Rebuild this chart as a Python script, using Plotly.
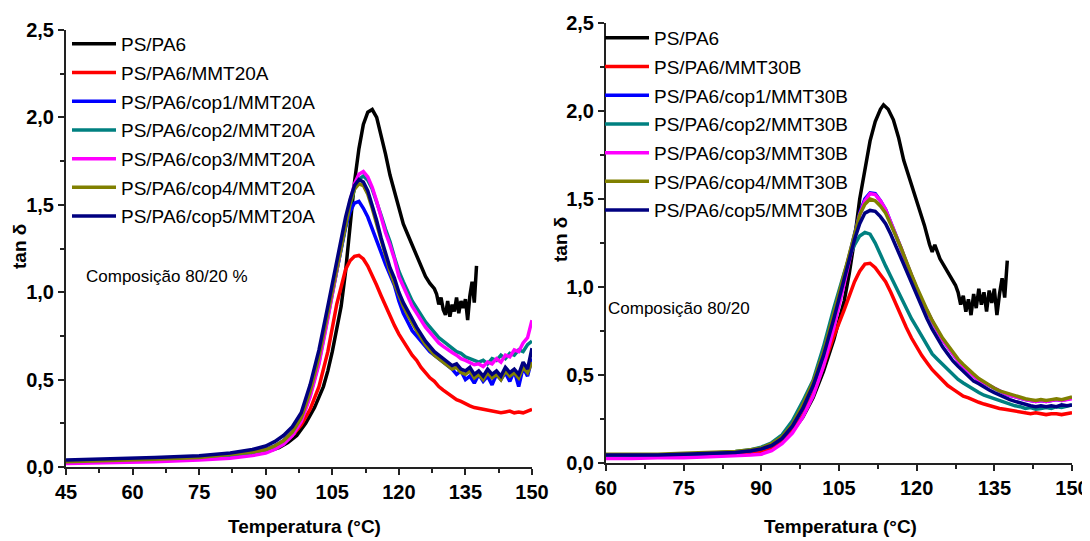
import plotly.graph_objects as go

# The page body adds an 8 px margin; the figure is sized and placed to compensate.
W, H = 1090, 541
OFF = 8
FW, FH = W - OFF, H - OFF

# ---------------- DATA ----------------
labels_left = ["PS/PA6", "PS/PA6/MMT20A", "PS/PA6/cop1/MMT20A", "PS/PA6/cop2/MMT20A",
               "PS/PA6/cop3/MMT20A", "PS/PA6/cop4/MMT20A", "PS/PA6/cop5/MMT20A"]
labels_right = ["PS/PA6", "PS/PA6/MMT30B", "PS/PA6/cop1/MMT30B", "PS/PA6/cop2/MMT30B",
                "PS/PA6/cop3/MMT30B", "PS/PA6/cop4/MMT30B", "PS/PA6/cop5/MMT30B"]
colors = ["#000000", "#ff0000", "#0000ff", "#008080", "#ff00ff", "#808000", "#000080"]

x_ticks_left = [45, 60, 75, 90, 105, 120, 135, 150]
x_ticks_right = [60, 75, 90, 105, 120, 135, 150]
y_ticks = [0.0, 0.5, 1.0, 1.5, 2.0, 2.5]

# Left panel (MMT20A)
L_T_black = [45, 55, 65, 75, 82, 87, 90, 93, 95, 97, 99, 101, 103, 104, 105, 106, 107, 108, 109, 110,
             111, 112, 113, 114, 115, 116, 117, 118, 119, 120, 121, 122, 122.5, 123, 124, 125, 126,
             127, 128, 128.5, 129, 129.5, 130, 130.5, 131, 131.5, 132, 132.5, 133, 133.5, 134, 134.5,
             135, 135.5, 136, 136.5, 137, 137.5]
L_black = [0.03, 0.035, 0.04, 0.05, 0.06, 0.07, 0.085, 0.11, 0.14, 0.18, 0.25, 0.34, 0.46, 0.55, 0.66,
           0.78, 0.92, 1.12, 1.38, 1.63, 1.82, 1.96, 2.03, 2.045, 2.00, 1.90, 1.79, 1.67, 1.57, 1.47,
           1.39, 1.33, 1.30, 1.26, 1.21, 1.15, 1.09, 1.05, 1.02, 0.99, 0.93, 0.97, 0.90, 0.87, 0.95,
           0.86, 0.93, 0.89, 0.97, 0.88, 0.95, 0.91, 0.96, 0.84, 0.98, 1.06, 0.94, 1.15]

L_T = [45, 55, 65, 75, 82, 87, 90, 92, 94, 96, 98, 100, 102, 104, 106, 108, 109, 110, 111, 112, 113,
       114, 115, 116, 117, 118, 119, 120, 121, 122, 123, 124, 125, 126, 127, 128, 129, 130, 131, 132,
       133, 134, 135, 136, 137, 138, 139, 140, 141, 142, 143, 144, 145, 146, 147, 148, 149, 150]
L_red = [0.03, 0.035, 0.04, 0.05, 0.06, 0.075, 0.09, 0.11, 0.14, 0.18, 0.24, 0.33, 0.46, 0.66, 0.93,
         1.13, 1.18, 1.205, 1.21, 1.19, 1.15, 1.10, 1.04, 0.98, 0.92, 0.86, 0.81, 0.76, 0.72, 0.68,
         0.64, 0.61, 0.57, 0.54, 0.51, 0.49, 0.46, 0.44, 0.42, 0.40, 0.385, 0.375, 0.36, 0.35, 0.34,
         0.335, 0.33, 0.325, 0.32, 0.315, 0.31, 0.315, 0.32, 0.31, 0.315, 0.31, 0.32, 0.33]
L_blue = [0.03, 0.035, 0.045, 0.055, 0.07, 0.085, 0.10, 0.12, 0.15, 0.20, 0.28, 0.43, 0.63, 0.88, 1.13,
          1.37, 1.46, 1.51, 1.52, 1.48, 1.43, 1.36, 1.29, 1.23, 1.16, 1.10, 1.04, 0.95, 0.88, 0.83,
          0.78, 0.75, 0.72, 0.69, 0.66, 0.64, 0.62, 0.60, 0.58, 0.56, 0.53, 0.55, 0.50, 0.52, 0.48,
          0.53, 0.49, 0.52, 0.47, 0.53, 0.50, 0.54, 0.49, 0.55, 0.46, 0.57, 0.52, 0.62]
L_teal = [0.03, 0.035, 0.045, 0.055, 0.065, 0.08, 0.095, 0.11, 0.14, 0.19, 0.27, 0.41, 0.60, 0.85, 1.12,
          1.38, 1.50, 1.59, 1.645, 1.665, 1.64, 1.59, 1.52, 1.44, 1.36, 1.29, 1.20, 1.12, 1.06, 1.00,
          0.95, 0.91, 0.87, 0.83, 0.80, 0.77, 0.74, 0.72, 0.70, 0.68, 0.66, 0.65, 0.63, 0.62, 0.61,
          0.60, 0.61, 0.59, 0.62, 0.61, 0.64, 0.62, 0.65, 0.64, 0.67, 0.66, 0.70, 0.72]
L_magenta = [0.02, 0.025, 0.03, 0.04, 0.05, 0.065, 0.08, 0.10, 0.13, 0.18, 0.26, 0.40, 0.59, 0.85, 1.13,
             1.40, 1.52, 1.62, 1.675, 1.69, 1.66, 1.60, 1.52, 1.43, 1.34, 1.27, 1.19, 1.09, 1.03, 0.97,
             0.92, 0.88, 0.84, 0.80, 0.77, 0.74, 0.71, 0.69, 0.67, 0.655, 0.64, 0.62, 0.61, 0.60, 0.585,
             0.59, 0.575, 0.60, 0.59, 0.62, 0.60, 0.64, 0.63, 0.67, 0.66, 0.71, 0.74, 0.84]
L_olive = [0.03, 0.035, 0.045, 0.055, 0.07, 0.085, 0.10, 0.12, 0.15, 0.20, 0.28, 0.43, 0.63, 0.88, 1.14,
           1.40, 1.51, 1.59, 1.62, 1.61, 1.56, 1.48, 1.39, 1.29, 1.20, 1.12, 1.05, 0.98, 0.92, 0.87,
           0.82, 0.78, 0.74, 0.70, 0.67, 0.64, 0.62, 0.60, 0.58, 0.56, 0.57, 0.54, 0.53, 0.55, 0.51,
           0.53, 0.50, 0.54, 0.51, 0.53, 0.50, 0.55, 0.52, 0.54, 0.51, 0.57, 0.54, 0.60]
L_navy = [0.04, 0.045, 0.055, 0.065, 0.08, 0.10, 0.12, 0.145, 0.18, 0.23, 0.31, 0.47, 0.67, 0.92, 1.18,
          1.43, 1.53, 1.61, 1.645, 1.63, 1.58, 1.50, 1.41, 1.31, 1.22, 1.14, 1.08, 1.00, 0.94, 0.89,
          0.84, 0.80, 0.76, 0.72, 0.69, 0.66, 0.64, 0.62, 0.60, 0.58, 0.59, 0.56, 0.55, 0.57, 0.53,
          0.55, 0.52, 0.56, 0.53, 0.55, 0.52, 0.57, 0.54, 0.56, 0.53, 0.60, 0.56, 0.68]

# Right panel (MMT30B)
R_T_black = [60, 70, 80, 85, 88, 90, 92, 94, 96, 98, 100, 102, 104, 106, 107, 108, 109, 110, 111, 112,
             113, 113.6, 114.5, 115.5, 116.5, 117.5, 118.5, 119.5, 120.5, 121.5, 122.5, 123, 123.5,
             124.5, 125.5, 126.5, 127.5, 128, 128.5, 129, 129.5, 130, 130.5, 131, 131.5, 132, 132.5,
             133, 133.5, 134, 134.5, 135, 135.5, 136, 136.5, 137, 137.5]
R_black = [0.04, 0.045, 0.05, 0.055, 0.06, 0.07, 0.09, 0.12, 0.18, 0.26, 0.37, 0.52, 0.70, 0.92, 1.08,
           1.27, 1.50, 1.68, 1.83, 1.94, 2.01, 2.035, 2.01, 1.95, 1.85, 1.72, 1.63, 1.54, 1.44, 1.35,
           1.24, 1.20, 1.24, 1.16, 1.11, 1.06, 1.01, 0.97, 0.90, 0.95, 0.86, 0.93, 0.84, 0.96, 0.88,
           0.99, 0.90, 0.97, 0.86, 0.98, 0.91, 0.99, 0.84, 0.96, 1.05, 0.94, 1.15]

R_T = [60, 65, 70, 75, 80, 85, 88, 90, 92, 94, 96, 98, 100, 102, 104, 106, 107, 108, 109, 110, 111,
       112, 113, 114, 115, 116, 117, 118, 119, 120, 121, 122, 123, 124, 125, 126, 127, 128, 129, 130,
       131, 132, 133, 134, 135, 136, 137, 138, 139, 140, 141, 142, 143, 144, 145, 146, 147, 148, 149, 150]
R_red = [0.035, 0.035, 0.035, 0.04, 0.045, 0.05, 0.055, 0.065, 0.085, 0.12, 0.18, 0.27, 0.39, 0.55, 0.72,
         0.87, 0.95, 1.03, 1.09, 1.13, 1.135, 1.11, 1.07, 1.03, 0.97, 0.90, 0.84, 0.77, 0.71, 0.66,
         0.61, 0.57, 0.53, 0.50, 0.47, 0.44, 0.42, 0.40, 0.38, 0.37, 0.355, 0.345, 0.335, 0.325, 0.315,
         0.31, 0.305, 0.30, 0.295, 0.29, 0.285, 0.28, 0.285, 0.28, 0.275, 0.28, 0.28, 0.275, 0.28, 0.285]
R_blue = [0.04, 0.04, 0.045, 0.045, 0.05, 0.06, 0.07, 0.08, 0.10, 0.14, 0.21, 0.31, 0.44, 0.61, 0.82,
          1.06, 1.18, 1.30, 1.42, 1.50, 1.535, 1.53, 1.49, 1.44, 1.37, 1.30, 1.22, 1.14, 1.06, 0.99,
          0.92, 0.86, 0.80, 0.75, 0.70, 0.66, 0.62, 0.58, 0.55, 0.52, 0.495, 0.47, 0.455, 0.435, 0.42,
          0.405, 0.395, 0.385, 0.375, 0.365, 0.36, 0.355, 0.35, 0.355, 0.35, 0.355, 0.36, 0.355, 0.365, 0.37]
R_teal = [0.04, 0.045, 0.045, 0.05, 0.055, 0.065, 0.075, 0.09, 0.115, 0.16, 0.24, 0.35, 0.47, 0.66, 0.88,
          1.08, 1.17, 1.24, 1.29, 1.31, 1.30, 1.25, 1.18, 1.12, 1.06, 1.00, 0.94, 0.87, 0.82, 0.77,
          0.72, 0.67, 0.62, 0.59, 0.56, 0.53, 0.50, 0.475, 0.455, 0.435, 0.415, 0.40, 0.385, 0.375, 0.36,
          0.35, 0.34, 0.335, 0.325, 0.32, 0.31, 0.315, 0.305, 0.31, 0.315, 0.31, 0.32, 0.315, 0.325, 0.33]
R_magenta = [0.025, 0.025, 0.03, 0.03, 0.035, 0.04, 0.045, 0.05, 0.07, 0.11, 0.17, 0.26, 0.38, 0.55, 0.77,
             1.02, 1.15, 1.28, 1.41, 1.49, 1.53, 1.525, 1.49, 1.44, 1.37, 1.30, 1.22, 1.14, 1.06, 0.99,
             0.92, 0.86, 0.80, 0.75, 0.70, 0.66, 0.62, 0.58, 0.55, 0.52, 0.495, 0.47, 0.455, 0.435, 0.42,
             0.405, 0.395, 0.385, 0.375, 0.365, 0.36, 0.355, 0.35, 0.355, 0.35, 0.355, 0.36, 0.355, 0.36, 0.365]
R_olive = [0.05, 0.05, 0.05, 0.055, 0.06, 0.065, 0.075, 0.085, 0.11, 0.15, 0.22, 0.33, 0.46, 0.63, 0.85,
           1.08, 1.20, 1.31, 1.41, 1.47, 1.50, 1.49, 1.46, 1.42, 1.36, 1.29, 1.22, 1.14, 1.07, 1.00,
           0.93, 0.87, 0.81, 0.76, 0.71, 0.67, 0.63, 0.59, 0.56, 0.53, 0.505, 0.48, 0.46, 0.44, 0.425,
           0.41, 0.40, 0.39, 0.38, 0.37, 0.365, 0.36, 0.355, 0.36, 0.355, 0.36, 0.365, 0.36, 0.37, 0.375]
R_navy = [0.045, 0.045, 0.045, 0.05, 0.055, 0.06, 0.07, 0.08, 0.10, 0.14, 0.21, 0.31, 0.44, 0.61, 0.82,
          1.05, 1.16, 1.27, 1.36, 1.42, 1.435, 1.43, 1.40, 1.36, 1.30, 1.23, 1.16, 1.09, 1.02, 0.95,
          0.88, 0.82, 0.76, 0.71, 0.66, 0.62, 0.58, 0.55, 0.52, 0.49, 0.465, 0.45, 0.43, 0.415, 0.40,
          0.385, 0.37, 0.36, 0.35, 0.34, 0.33, 0.325, 0.32, 0.325, 0.32, 0.325, 0.32, 0.33, 0.325, 0.33]

left_series = [(L_T_black, L_black), (L_T, L_red), (L_T, L_blue), (L_T, L_teal),
               (L_T, L_magenta), (L_T, L_olive), (L_T, L_navy)]
right_series = [(R_T_black, R_black), (R_T, R_red), (R_T, R_blue), (R_T, R_teal),
                (R_T, R_magenta), (R_T, R_olive), (R_T, R_navy)]

# ---------------- FIGURE ----------------
SANS = "Liberation Sans, Arial, sans-serif"

fig = go.Figure()
for i, (tx, vy) in enumerate(left_series):
    fig.add_trace(go.Scatter(x=tx, y=vy, mode="lines", name=labels_left[i],
                             line=dict(color=colors[i], width=3.5), xaxis="x", yaxis="y",
                             legend="legend", legendgroup="L%d" % i))
for i, (tx, vy) in enumerate(right_series):
    fig.add_trace(go.Scatter(x=tx, y=vy, mode="lines", name=labels_right[i],
                             line=dict(color=colors[i], width=3.5), xaxis="x2", yaxis="y2",
                             legend="legend2", legendgroup="R%d" % i))


def px_x(p):
    return (p - OFF) / FW


def px_y(p):
    return 1 - (p - OFF) / FH


minor_style = dict(ticks="outside", ticklen=4, tickwidth=1.5, tickcolor="#222")
axis_common = dict(showline=True, linecolor="#222", linewidth=2, ticks="outside", ticklen=6,
                   tickwidth=1.5, tickcolor="#222", showgrid=False, zeroline=False,
                   automargin=False,
                   tickfont=dict(family=SANS, size=20, color="black", weight="bold"))

fig.update_layout(
    width=FW, height=FH, margin=dict(l=0, r=0, t=0, b=0, autoexpand=False),
    paper_bgcolor="white", plot_bgcolor="white", separators=",.",
    xaxis=dict(domain=[px_x(66), px_x(532)], range=[45, 150], tickvals=x_ticks_left,
               anchor="y", minor=dict(dtick=7.5, tick0=45, **minor_style), **axis_common),
    yaxis=dict(domain=[px_y(467), px_y(30)], range=[0, 2.5], tickvals=y_ticks, tickformat=".1f",
               anchor="x", minor=dict(dtick=0.25, tick0=0, **minor_style), **axis_common),
    xaxis2=dict(domain=[px_x(606), px_x(1072)], range=[60, 150], tickvals=x_ticks_right,
                anchor="y2", minor=dict(dtick=7.5, tick0=60, **minor_style), **axis_common),
    yaxis2=dict(domain=[px_y(463), px_y(23)], range=[0, 2.5], tickvals=y_ticks, tickformat=".1f",
                anchor="x2", minor=dict(dtick=0.25, tick0=0, **minor_style), **axis_common),
    legend=dict(x=px_x(67), y=px_y(25), xanchor="left", yanchor="top", bgcolor="rgba(0,0,0,0)",
                font=dict(family=SANS, size=19, color="black"), itemwidth=44,
                tracegroupgap=1, borderwidth=0),
    legend2=dict(x=px_x(600), y=px_y(19), xanchor="left", yanchor="top", bgcolor="rgba(0,0,0,0)",
                 font=dict(family=SANS, size=19, color="black"), itemwidth=44,
                 tracegroupgap=1, borderwidth=0),
    showlegend=True,
)

ann = [
    dict(text="tan δ", x=px_x(19), y=px_y(247), textangle=-90),
    dict(text="tan δ", x=px_x(560), y=px_y(240), textangle=-90),
    dict(text="Temperatura (°C)", x=px_x(304), y=px_y(526)),
    dict(text="Temperatura (°C)", x=px_x(840), y=px_y(526)),
]
for a in ann:
    fig.add_annotation(xref="paper", yref="paper", showarrow=False, xanchor="center",
                       yanchor="middle", font=dict(family=SANS, size=19, color="black",
                                                   weight="bold"), **a)

fig.add_annotation(text="Composição 80/20 %", xref="paper", yref="paper", x=px_x(84), y=px_y(276),
                   xanchor="left", yanchor="middle", showarrow=False,
                   font=dict(family=SANS, size=17, color="black"))
fig.add_annotation(text="Composição 80/20", xref="paper", yref="paper", x=px_x(606), y=px_y(308),
                   xanchor="left", yanchor="middle", showarrow=False,
                   font=dict(family=SANS, size=17, color="black"))

fig.write_html("out.html")
